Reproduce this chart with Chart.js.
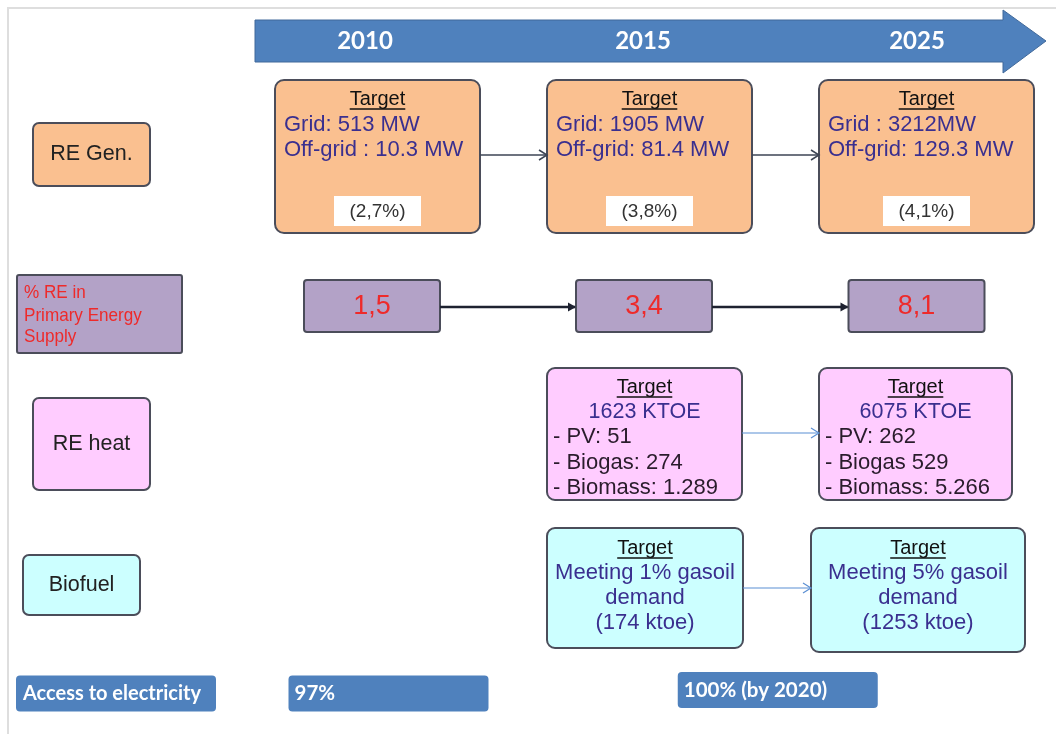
<!DOCTYPE html>
<html>
<head>
<meta charset="utf-8">
<script src="https://cdn.jsdelivr.net/npm/chart.js@4.4.1/dist/chart.umd.min.js"></script>
<style>
  html, body { margin: 0; padding: 0; background: #fff; }
  #wrap { width: 1056px; height: 734px; position: relative; }
</style>
</head>
<body>
<div id="wrap"><canvas id="roadmapChart"></canvas></div>
<script>
// ======================================
// Data
// ======================================

const years = ["2010", "2015", "2025"];
const rows = ["RE Gen.", "% RE in Primary Energy Supply", "RE heat", "Biofuel", "Access to electricity"];
const rowLabelLines = [["RE Gen."], ["% RE in", "Primary Energy", "Supply"], ["RE heat"], ["Biofuel"], ["Access to electricity"]];

const genYears = ["2010", "2015", "2025"];
const genGrid = ["Grid: 513 MW", "Grid: 1905 MW", "Grid : 3212MW"];
const genOffGrid = ["Off-grid : 10.3 MW", "Off-grid: 81.4 MW", "Off-grid: 129.3 MW"];
const genShare = ["(2,7%)", "(3,8%)", "(4,1%)"];

const primaryYears = ["2010", "2015", "2025"];
const primaryShare = ["1,5", "3,4", "8,1"];

const heatYears = ["2015", "2025"];
const heatTotal = ["1623 KTOE", "6075 KTOE"];
const heatLines = [
  ["- PV: 51", "- Biogas: 274", "- Biomass: 1.289"],
  ["- PV: 262", "- Biogas 529", "- Biomass: 5.266"],
];

const biofuelYears = ["2015", "2025"];
const biofuelLines = [
  ["Meeting 1% gasoil", "demand", "(174 ktoe)"],
  ["Meeting 5% gasoil", "demand", "(1253 ktoe)"],
];

const accessYears = ["2010", "2020"];
const accessValues = ["97%", "100% (by 2020)"];

// ======================================
// Layout / styles
// ======================================

const FONT = "'Liberation Sans', Arial, sans-serif";
const BOLD = "Lato, 'Open Sans', sans-serif";

const COLORS = {
  gen: "#FAC090",
  primary: "#B3A2C7",
  heat: "#FFCCFF",
  biofuel: "#CCFFFF",
  access: "#4F81BD",
  border: "#4b4d5a",
  red: "#EE2A2A",
  ink: "#3a2f8f",
  dark: "#222222",
  arrowDark: "#3c4454",
  arrowBlue: "#5b8fd3",
};

const cellLayout = [
  { dy: 0.5, h: 153, w: [205, 205, 215], dx: [2.5, 2, 6.5] },
  { dy: 15.75, h: 52, w: 136, dx: [-3, -3.5, -3.5] },
  { dy: 9.5, h: 132, w: [195, 193], dx: [-3, -4.5] },
  { dy: [29.25, 31.25], h: [120, 124], w: [196, 214], dx: [-2.5, -2] },
  { dy: [0.5, -3], h: 36, w: 200, dx: [13.5, -6] },
];

const labelLayout = [
  { x: 33, w: 117, h: 63, dy: -1.5 },
  { x: 17, w: 165, h: 78, dy: 23.75 },
  { x: 33, w: 117, h: 92, dy: 19.5 },
  { x: 23, w: 117, h: 60, dy: 26.25 },
  { x: 16, w: 200, h: 36, dy: 0.5 },
];

const yearDx = [-10, -4.5, -3];
const banner = { left: 255, right: 1003, tip: 1046, top: 20, bottom: 62, headTop: 10, headBottom: 73 };

// ======================================
// Helpers
// ======================================

function pick(v, i) {
  return Array.isArray(v) ? v[i] : v;
}

// column index of a year, interpolated between the shown columns
function yearIndex(year) {
  const exact = years.indexOf(year);
  if (exact !== -1) return exact;
  const y = Number(year);
  for (let i = 0; i < years.length - 1; i++) {
    const a = Number(years[i]);
    const b = Number(years[i + 1]);
    if (y > a && y < b) return i + (y - a) / (b - a);
  }
  return 0;
}

function cellBox(chart, row, colYear, i) {
  const { x, y } = chart.scales;
  const lay = cellLayout[row];
  const w = pick(lay.w, i);
  const h = pick(lay.h, i);
  const cx = x.getPixelForValue(yearIndex(colYear)) + pick(lay.dx, i);
  const cy = y.getPixelForValue(row) + pick(lay.dy, i);
  return { left: cx - w / 2, top: cy - h / 2, w, h, cx, cy };
}

function roundBox(ctx, b, fill, radius, stroke) {
  ctx.beginPath();
  ctx.roundRect(b.left, b.top, b.w, b.h, radius);
  ctx.fillStyle = fill;
  ctx.fill();
  if (stroke) {
    ctx.lineWidth = 2;
    ctx.strokeStyle = stroke;
    ctx.stroke();
  }
}

function text(ctx, str, x, y, font, color, align) {
  ctx.font = font;
  ctx.fillStyle = color;
  ctx.textAlign = align || "center";
  ctx.textBaseline = "middle";
  ctx.fillText(str, x, y);
}

// condensed text, squeezed horizontally
function narrowText(ctx, str, x, y, font, color, squeeze) {
  ctx.save();
  ctx.translate(x, y);
  ctx.scale(squeeze, 1);
  text(ctx, str, 0, 0, font, color, "left");
  ctx.restore();
}

function title(ctx, cx, y) {
  text(ctx, "Target", cx, y, `20px ${FONT}`, "#111", "center");
  const w = ctx.measureText("Target").width;
  ctx.beginPath();
  ctx.moveTo(cx - w / 2, y + 10);
  ctx.lineTo(cx + w / 2, y + 10);
  ctx.lineWidth = 1.6;
  ctx.strokeStyle = "#111";
  ctx.stroke();
}

function arrow(ctx, x1, x2, y, color, width, filled) {
  ctx.beginPath();
  ctx.moveTo(x1, y);
  ctx.lineTo(x2 - 1, y);
  ctx.lineWidth = width;
  ctx.strokeStyle = color;
  ctx.stroke();
  ctx.beginPath();
  if (filled) {
    ctx.moveTo(x2, y);
    ctx.lineTo(x2 - 8, y - 4.5);
    ctx.lineTo(x2 - 8, y + 4.5);
    ctx.closePath();
    ctx.fillStyle = color;
    ctx.fill();
  } else {
    ctx.moveTo(x2 - 8, y - 5);
    ctx.lineTo(x2, y);
    ctx.lineTo(x2 - 8, y + 5);
    ctx.lineWidth = width;
    ctx.stroke();
  }
}

// ======================================
// Drawing plugin
// ======================================

const roadmapPlugin = {
  id: "roadmap",
  afterDraw(chart) {
    const ctx = chart.ctx;
    const xs = chart.scales.x;
    const ys = chart.scales.y;
    ctx.save();

    // frame
    ctx.beginPath();
    ctx.moveTo(8, chart.height);
    ctx.lineTo(8, 8);
    ctx.lineTo(chart.width, 8);
    ctx.lineWidth = 2;
    ctx.strokeStyle = "#dedede";
    ctx.stroke();

    // timeline banner
    const b = banner;
    const mid = (b.top + b.bottom) / 2;
    ctx.beginPath();
    ctx.moveTo(b.left, b.top);
    ctx.lineTo(b.right, b.top);
    ctx.lineTo(b.right, b.headTop);
    ctx.lineTo(b.tip, mid);
    ctx.lineTo(b.right, b.headBottom);
    ctx.lineTo(b.right, b.bottom);
    ctx.lineTo(b.left, b.bottom);
    ctx.closePath();
    ctx.fillStyle = COLORS.access;
    ctx.fill();
    ctx.lineWidth = 1;
    ctx.strokeStyle = "#41699a";
    ctx.stroke();
    years.forEach((yr, i) => {
      text(ctx, yr, xs.getPixelForValue(i) + yearDx[i], mid, `bold 24px ${BOLD}`, "#fff");
    });

    // row headers
    const labelFills = [COLORS.gen, COLORS.primary, COLORS.heat, COLORS.biofuel, COLORS.access];
    rows.forEach((row, r) => {
      const lay = labelLayout[r];
      const cy = ys.getPixelForValue(r) + lay.dy;
      const box = { left: lay.x, top: cy - lay.h / 2, w: lay.w, h: lay.h };
      const lines = rowLabelLines[r];
      if (r === 4) {
        roundBox(ctx, box, labelFills[r], 4, null);
        text(ctx, lines[0], box.left + 7, cy, `bold 20px ${BOLD}`, "#fff", "left");
      } else if (r === 1) {
        roundBox(ctx, box, labelFills[r], 2, COLORS.border);
        [18, 41, 62].forEach((off, k) => {
          narrowText(ctx, lines[k], box.left + 7, box.top + off, `19px ${FONT}`, COLORS.red, 0.9);
        });
      } else {
        roundBox(ctx, box, labelFills[r], 6, COLORS.border);
        text(ctx, lines[0], box.left + box.w / 2, cy, `21.5px ${FONT}`, COLORS.dark);
      }
    });

    // RE generation
    const gen = genYears.map((yr, i) => cellBox(chart, 0, yr, i));
    gen.forEach((c, i) => {
      roundBox(ctx, c, COLORS.gen, 9, COLORS.border);
      title(ctx, c.cx, c.top + 19);
      text(ctx, genGrid[i], c.left + 9, c.top + 45, `22px ${FONT}`, COLORS.ink, "left");
      text(ctx, genOffGrid[i], c.left + 9, c.top + 70, `22px ${FONT}`, COLORS.ink, "left");
      ctx.fillStyle = "#fff";
      ctx.fillRect(c.cx - 43.5, c.top + 116, 87, 30);
      text(ctx, genShare[i], c.cx, c.top + 132, `19px ${FONT}`, "#333");
    });
    for (let i = 0; i < gen.length - 1; i++) {
      arrow(ctx, gen[i].left + gen[i].w, gen[i + 1].left, gen[i].top + 75, COLORS.arrowDark, 1.5, false);
    }

    // share of primary energy
    const prim = primaryYears.map((yr, i) => cellBox(chart, 1, yr, i));
    prim.forEach((c, i) => {
      roundBox(ctx, c, COLORS.primary, 3, COLORS.border);
      text(ctx, primaryShare[i], c.cx, c.cy + 1, `27px ${FONT}`, COLORS.red);
    });
    for (let i = 0; i < prim.length - 1; i++) {
      arrow(ctx, prim[i].left + prim[i].w, prim[i + 1].left, prim[i].cy + 1, "#1e2230", 2.5, true);
    }

    // RE heat
    const heat = heatYears.map((yr, i) => cellBox(chart, 2, yr, i));
    heat.forEach((c, i) => {
      roundBox(ctx, c, COLORS.heat, 8, COLORS.border);
      title(ctx, c.cx, c.top + 19);
      text(ctx, heatTotal[i], c.cx, c.top + 44, `21.5px ${FONT}`, COLORS.ink);
      heatLines[i].forEach((ln, k) => {
        text(ctx, ln, c.left + 6, c.top + 69 + k * 25.5, `22px ${FONT}`, "#2a1c2c", "left");
      });
    });
    arrow(ctx, heat[0].left + heat[0].w, heat[1].left, heat[0].top + 65, COLORS.arrowBlue, 1.2, false);

    // biofuel
    const bio = biofuelYears.map((yr, i) => cellBox(chart, 3, yr, i));
    bio.forEach((c, i) => {
      roundBox(ctx, c, COLORS.biofuel, 8, COLORS.border);
      title(ctx, c.cx, c.top + 20);
      biofuelLines[i].forEach((ln, k) => {
        text(ctx, ln, c.cx, c.top + 45 + k * 25, `22px ${FONT}`, COLORS.ink);
      });
    });
    arrow(ctx, bio[0].left + bio[0].w, bio[1].left, bio[0].top + 60, COLORS.arrowBlue, 1.2, false);

    // access to electricity
    accessYears.forEach((yr, i) => {
      const c = cellBox(chart, 4, yr, i);
      roundBox(ctx, c, COLORS.access, 4, null);
      text(ctx, accessValues[i], c.left + 6, c.cy, `bold 20.5px ${BOLD}`, "#fff", "left");
    });

    ctx.restore();
  },
};

// ======================================
// Chart
// ======================================

new Chart(document.getElementById("roadmapChart"), {
  type: "scatter",
  data: { datasets: [] },
  options: {
    responsive: true,
    maintainAspectRatio: false,
    animation: false,
    layout: { padding: { left: 375, right: 136, top: 156, bottom: 41 } },
    plugins: { legend: { display: false }, tooltip: { enabled: false } },
    scales: {
      x: { type: "category", labels: years, offset: false, display: false },
      y: { type: "category", labels: rows, offset: false, display: false },
    },
  },
  plugins: [roadmapPlugin],
});
</script>
</body>
</html>
